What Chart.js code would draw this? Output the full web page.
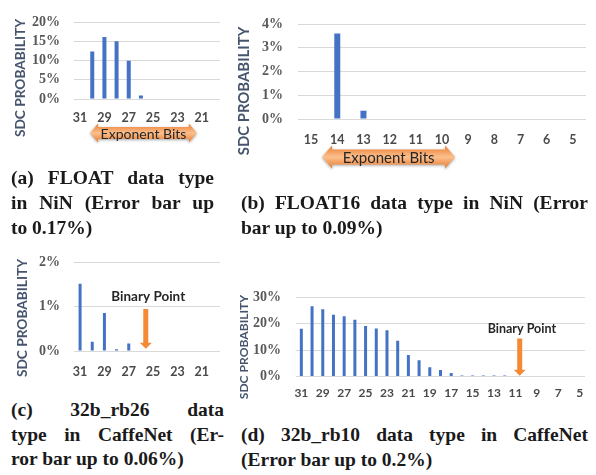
<!DOCTYPE html>
<html><head><meta charset="utf-8">
<script src="https://cdn.jsdelivr.net/npm/chart.js@4"></script>
<style>
body{margin:0;background:#fff;width:596px;height:475px;position:relative;overflow:hidden;}
canvas{position:absolute;}
.yt{position:absolute;transform:translate(-50%,-50%) rotate(-90deg);font-family:Lato,sans-serif;font-weight:bold;color:#46556d;white-space:nowrap;line-height:1;}
.cap{position:absolute;font-family:"Liberation Serif",serif;font-weight:bold;font-size:19.5px;color:#1a1a1a;white-space:nowrap;line-height:1;}
.j{text-align:justify;text-align-last:justify;}
</style></head>
<body>
<canvas id="cA" width="230" height="150" style="left:0;top:0"></canvas>
<canvas id="cB" width="366" height="190" style="left:230px;top:0"></canvas>
<canvas id="cC" width="230" height="150" style="left:0;top:240px"></canvas>
<canvas id="cD" width="366" height="130" style="left:230px;top:270px"></canvas>

<div class="yt" style="left:20px;top:78px;font-size:13.7px">SDC PROBABILITY</div>
<div class="yt" style="left:243px;top:91px;font-size:14.9px">SDC PROBABILITY</div>
<div class="yt" style="left:22px;top:318px;font-size:13.7px">SDC PROBABILITY</div>
<div class="yt" style="left:244px;top:347px;font-size:12.1px">SDC PROBABILITY</div>

<div class="cap j" style="left:11px;top:168px;width:203px">(a) FLOAT data type</div>
<div class="cap j" style="left:11px;top:193px;width:203px">in NiN (Error bar up</div>
<div class="cap" style="left:11px;top:218px">to 0.17%)</div>

<div class="cap j" style="left:241px;top:193px;width:347px">(b) FLOAT16 data type in NiN (Error</div>
<div class="cap" style="left:241px;top:218px">bar up to 0.09%)</div>

<div class="cap j" style="left:11px;top:400px;width:213px">(c) 32b_rb26 data</div>
<div class="cap j" style="left:11px;top:425px;width:213px">type in CaffeNet (Er-</div>
<div class="cap" style="left:11px;top:449px">ror bar up to 0.06%)</div>

<div class="cap j" style="left:241px;top:425px;width:347px">(d) 32b_rb10 data type in CaffeNet</div>
<div class="cap" style="left:241px;top:450px">(Error bar up to 0.2%)</div>

<script>
// ---- data ----
const catsA = ['31','30','29','28','27','26','25','24','23','22','21','20'];
const valsA = [0, 12.4, 16.2, 15.1, 10.0, 0.9, 0, 0, 0, 0, 0, 0];
const ticksA = [0, 5, 10, 15, 20];

const catsB = ['15','14','13','12','11','10','9','8','7','6','5'];
const valsB = [0, 3.6, 0.35, 0, 0, 0, 0, 0, 0, 0, 0];
const ticksB = [0, 1, 2, 3, 4];

const catsC = ['31','30','29','28','27','26','25','24','23','22','21','20'];
const valsC = [1.52, 0.21, 0.86, 0.04, 0.17, 0, 0, 0, 0, 0, 0, 0];
const ticksC = [0, 1, 2];

const catsD = ['31','30','29','28','27','26','25','24','23','22','21','20','19','18','17','16','15','14','13','12','11','10','9','8','7','6','5'];
const valsD = [18.0, 26.5, 25.4, 23.3, 22.7, 21.4, 19.1, 18.1, 17.5, 13.5, 8.1, 6.2, 3.5, 2.5, 1.4, 0.4, 0.4, 0.4, 0.4, 0.4, 0, 0, 0, 0, 0, 0, 0];
const ticksD = [0, 10, 20, 30];

// annotation anchors (category index / value)
const expArrowA = {from: 0.82, to: 9.6};
const expArrowB = {from: 0.42, to: 5.5};
const binPointC = {idx: 5.4, top: 0.95, bottom: 0.05, labelIdx: 5.6, labelVal: 1.22};
const binPointD = {idx: 20.4, top: 14.4, bottom: 0.3, labelIdx: 20.6, labelVal: 17.8};

const BLUE = '#4472C4';
const ORANGE = '#F58A36';

function dblArrowPath(ctx, x1, x2, yc, hs, hh, hl){
  ctx.beginPath();
  ctx.moveTo(x1, yc);
  ctx.lineTo(x1+hl, yc-hh/2);
  ctx.lineTo(x1+hl, yc-hs/2);
  ctx.lineTo(x2-hl, yc-hs/2);
  ctx.lineTo(x2-hl, yc-hh/2);
  ctx.lineTo(x2, yc);
  ctx.lineTo(x2-hl, yc+hh/2);
  ctx.lineTo(x2-hl, yc+hs/2);
  ctx.lineTo(x1+hl, yc+hs/2);
  ctx.lineTo(x1+hl, yc+hh/2);
  ctx.closePath();
}

const decor = {
  id: 'decor',
  afterDraw(chart, args, o){
    const ctx = chart.ctx, xs = chart.scales.x, ys = chart.scales.y;
    if (o.exp){
      const a = o.exp;
      const x1 = xs.getPixelForValue(a.from), x2 = xs.getPixelForValue(a.to);
      const yc = chart.chartArea.bottom + a.dy;
      ctx.save();
      const g = ctx.createLinearGradient(0, yc-a.hh/2, 0, yc+a.hh/2);
      g.addColorStop(0, '#EC7A2C');
      g.addColorStop(0.5, '#FBC08E');
      g.addColorStop(1, '#EC7A2C');
      ctx.shadowColor = 'rgba(0,0,0,0.35)';
      ctx.shadowBlur = 3;
      ctx.shadowOffsetY = 1;
      dblArrowPath(ctx, x1, x2, yc, a.hs, a.hh, a.hl);
      ctx.fillStyle = g;
      ctx.fill();
      ctx.shadowColor = 'transparent';
      ctx.fillStyle = '#262626';
      ctx.font = a.font;
      ctx.textAlign = 'center';
      ctx.textBaseline = 'middle';
      ctx.fillText('Exponent Bits', (x1+x2)/2, yc+1);
      ctx.restore();
    }
    if (o.bin){
      const b = o.bin;
      const x = xs.getPixelForValue(b.idx);
      const yt = ys.getPixelForValue(b.top), yb = ys.getPixelForValue(b.bottom);
      ctx.save();
      ctx.fillStyle = ORANGE;
      ctx.beginPath();
      ctx.moveTo(x - b.sw/2, yt);
      ctx.lineTo(x + b.sw/2, yt);
      ctx.lineTo(x + b.sw/2, yb - b.hl);
      ctx.lineTo(x + b.hw/2, yb - b.hl);
      ctx.lineTo(x, yb);
      ctx.lineTo(x - b.hw/2, yb - b.hl);
      ctx.lineTo(x - b.sw/2, yb - b.hl);
      ctx.closePath();
      ctx.fill();
      ctx.fillStyle = '#262626';
      ctx.font = b.font;
      ctx.textAlign = 'center';
      ctx.textBaseline = 'middle';
      ctx.fillText('Binary Point', xs.getPixelForValue(b.labelIdx), ys.getPixelForValue(b.labelVal));
      ctx.restore();
    }
  }
};

function makeChart(id, cats, vals, yTicks, L){
  const canvas = document.getElementById(id);
  const W = canvas.width, H = canvas.height;
  return new Chart(canvas, {
    type: 'bar',
    data: { labels: cats, datasets: [{ data: vals, backgroundColor: BLUE, barThickness: L.bar, borderWidth: 0, inflateAmount: 0 }] },
    options: {
      responsive: false, animation: false, devicePixelRatio: 1,
      layout: { padding: { left: 0, top: L.top, right: W - L.right, bottom: 0 } },
      plugins: { legend: { display: false }, tooltip: { enabled: false }, decor: L.decor },
      scales: {
        x: {
          grid: { display: false, drawTicks: false }, border: { display: false },
          ticks: {
            autoSkip: false, maxRotation: 0, minRotation: 0, padding: L.xpad,
            color: '#4a4a4a', font: { family: 'Lato', weight: 'bold', size: L.xfs },
            callback: (v, i) => (L.every === 1 || i % L.every === 0) ? cats[i] : ''
          },
          afterFit: s => { s.height = H - L.bottom; }
        },
        y: {
          min: yTicks[0], max: yTicks[yTicks.length-1],
          afterBuildTicks: s => { s.ticks = yTicks.map(v => ({ value: v })); },
          grid: { color: '#d9d9d9', lineWidth: 1, drawTicks: false }, border: { display: false },
          ticks: {
            autoSkip: false, padding: L.ypad, color: '#595959',
            font: { family: 'Liberation Serif', weight: 'bold', size: 14 },
            callback: v => v + '%'
          },
          afterFit: s => { s.width = L.left; }
        }
      }
    },
    plugins: [decor]
  });
}

makeChart('cA', catsA, valsA, ticksA, {
  left: 74, right: 220, top: 16, bottom: 99, bar: 4, xpad: 11, xfs: 12.5, every: 2, ypad: 14,
  decor: { exp: Object.assign({ dy: 34, hs: 12, hh: 19, hl: 8, font: '14px Lato' }, expArrowA) }
});
makeChart('cB', catsB, valsB, ticksB, {
  left: 68, right: 356, top: 24, bottom: 119, bar: 6, xpad: 13, xfs: 12.5, every: 1, ypad: 15,
  decor: { exp: Object.assign({ dy: 38, hs: 15, hh: 23, hl: 10, font: '15px Lato' }, expArrowB) }
});
makeChart('cC', catsC, valsC, ticksC, {
  left: 74, right: 220, top: 16, bottom: 111, bar: 3, xpad: 13, xfs: 12.5, every: 2, ypad: 14,
  decor: { bin: Object.assign({ sw: 5, hw: 12, hl: 6, font: 'bold 13.5px Lato' }, binPointC) }
});
makeChart('cD', catsD, valsD, ticksD, {
  left: 66, right: 355, top: 27, bottom: 108, bar: 3, xpad: 9, xfs: 12, every: 2, ypad: 15,
  decor: { bin: Object.assign({ sw: 5, hw: 12, hl: 6, font: 'bold 12.5px Lato' }, binPointD) }
});
</script>
</body></html>
